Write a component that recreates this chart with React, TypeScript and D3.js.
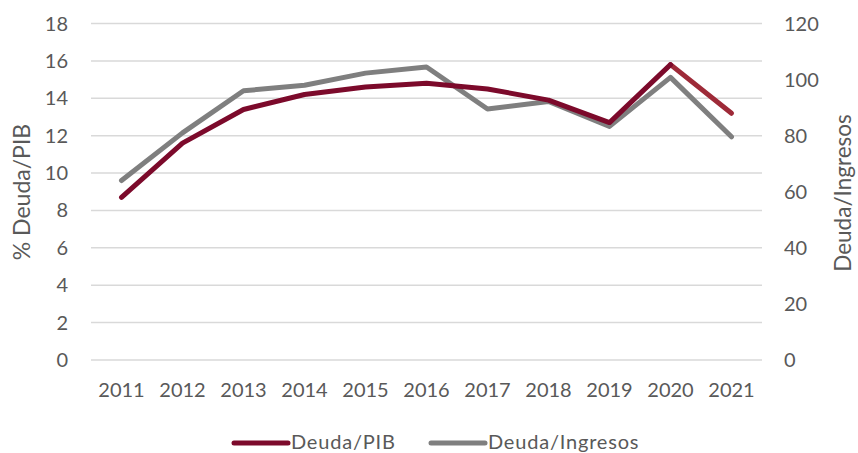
import React, { useEffect, useRef } from 'react';
import * as d3 from 'd3';

const years = ['2011', '2012', '2013', '2014', '2015', '2016', '2017', '2018', '2019', '2020', '2021'];
const deudaPib = [8.7, 11.6, 13.4, 14.2, 14.6, 14.8, 14.5, 13.9, 12.7, 15.8, 13.2];
const deudaIngresos = [64, 81, 96, 98, 102.3, 104.5, 89.5, 92.2, 83.3, 100.8, 79.6];
const leftTicks = [0, 2, 4, 6, 8, 10, 12, 14, 16, 18];
const rightTicks = [0, 20, 40, 60, 80, 100, 120];

const RED = '#7C0A2B';
const RED_LIGHT = '#9E2A38';
const GRAY = '#7F7F7F';
const TEXT = '#595959';
const FONT = 'Lato, "Open Sans", sans-serif';

const App: React.FC = () => {
  const svgRef = useRef<SVGSVGElement>(null);

  useEffect(() => {
    if (!svgRef.current) return;
    const svg = d3.select(svgRef.current);
    svg.selectAll('*').remove();

    const left = 91, right = 762, top = 23.5, bottom = 360;

    const x = d3.scaleBand<string>().domain(years).range([left, right]);
    const yL = d3.scaleLinear().domain([0, 18]).range([bottom, top]);
    const yR = d3.scaleLinear().domain([0, 120]).range([bottom, top]);
    const cx = (d: string) => x(d)! + x.bandwidth() / 2;

    // gridlines
    svg.append('g')
      .selectAll('line')
      .data(leftTicks)
      .enter().append('line')
      .attr('x1', left).attr('x2', right)
      .attr('y1', d => yL(d)).attr('y2', d => yL(d))
      .attr('stroke', '#D9D9D9')
      .attr('stroke-width', 1.5);

    // left axis labels
    svg.append('g')
      .selectAll('text')
      .data(leftTicks)
      .enter().append('text')
      .attr('x', 68)
      .attr('y', d => yL(d))
      .attr('dy', '0.35em')
      .attr('text-anchor', 'end')
      .style('font-family', FONT).style('font-size', '20px').style('fill', TEXT)
      .text(d => d);

    // right axis labels
    svg.append('g')
      .selectAll('text')
      .data(rightTicks)
      .enter().append('text')
      .attr('x', 784)
      .attr('y', d => yR(d))
      .attr('dy', '0.35em')
      .attr('text-anchor', 'start')
      .style('font-family', FONT).style('font-size', '20px').style('fill', TEXT)
      .text(d => d);

    // x labels
    svg.append('g')
      .selectAll('text')
      .data(years)
      .enter().append('text')
      .attr('x', d => cx(d))
      .attr('y', 389.5)
      .attr('dy', '0.35em')
      .attr('text-anchor', 'middle')
      .style('font-family', FONT).style('font-size', '20px').style('fill', TEXT)
      .text(d => d);

    // axis titles
    svg.append('text')
      .attr('transform', `translate(22,192) rotate(-90)`)
      .attr('text-anchor', 'middle')
      .attr('dy', '0.35em')
      .style('font-family', FONT).style('font-size', '23px').style('fill', TEXT)
      .text('% Deuda/PIB');

    svg.append('text')
      .attr('transform', `translate(843,193) rotate(-90)`)
      .attr('text-anchor', 'middle')
      .attr('dy', '0.35em')
      .style('font-family', FONT).style('font-size', '22.5px').style('fill', TEXT)
      .text('Deuda/Ingresos');

    // gray line (right axis)
    const lineR = d3.line<number>()
      .x((_, i) => cx(years[i]))
      .y(d => yR(d));
    svg.append('path')
      .attr('d', lineR(deudaIngresos))
      .attr('fill', 'none')
      .attr('stroke', GRAY)
      .attr('stroke-width', 5)
      .attr('stroke-linecap', 'round')
      .attr('stroke-linejoin', 'round');

    // red line (left axis), last segment lighter
    const lineL = d3.line<[string, number]>()
      .x(d => cx(d[0]))
      .y(d => yL(d[1]));
    const pts: [string, number][] = years.map((y, i) => [y, deudaPib[i]]);
    const n = pts.length;
    svg.append('path')
      .attr('d', lineL(pts.slice(n - 2)))
      .attr('fill', 'none')
      .attr('stroke', RED_LIGHT)
      .attr('stroke-width', 5)
      .attr('stroke-linecap', 'round')
      .attr('stroke-linejoin', 'round');
    svg.append('path')
      .attr('d', lineL(pts.slice(0, n - 1)))
      .attr('fill', 'none')
      .attr('stroke', RED)
      .attr('stroke-width', 5)
      .attr('stroke-linecap', 'round')
      .attr('stroke-linejoin', 'round');

    // legend
    const legend = [
      { label: 'Deuda/PIB', color: RED, x0: 234 },
      { label: 'Deuda/Ingresos', color: GRAY, x0: 431 },
    ];
    const lg = svg.append('g');
    legend.forEach(l => {
      lg.append('line')
        .attr('x1', l.x0).attr('x2', l.x0 + 54)
        .attr('y1', 443).attr('y2', 443)
        .attr('stroke', l.color)
        .attr('stroke-width', 5)
        .attr('stroke-linecap', 'round');
      lg.append('text')
        .attr('x', l.x0 + 57)
        .attr('y', 449)
        .style('font-family', FONT).style('font-size', '20px').style('fill', TEXT)
        .style('letter-spacing', '0.8px')
        .text(l.label);
    });
  }, []);

  return (
    <div style={{ position: 'absolute', left: 0, top: 0, width: 858, height: 453, background: '#fff' }}>
      <svg ref={svgRef} width={858} height={453} />
    </div>
  );
};

export default App;
